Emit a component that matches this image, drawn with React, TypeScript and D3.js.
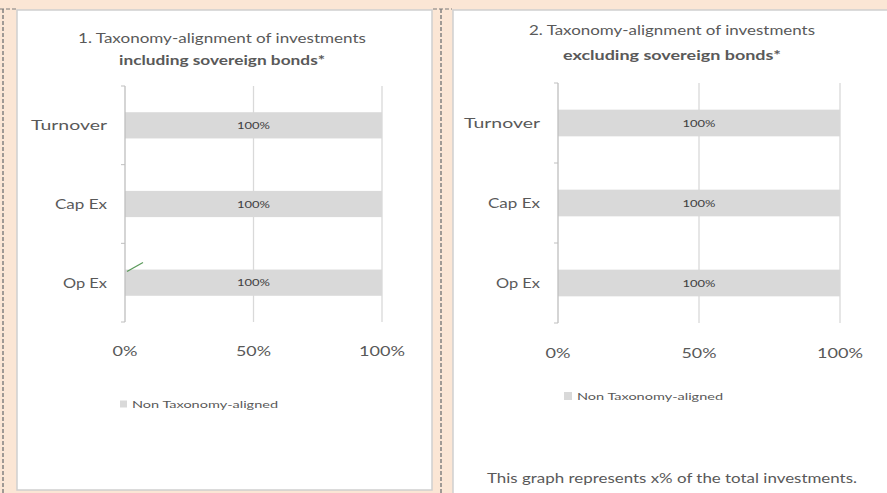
import React from 'react'
import * as d3 from 'd3'

// chart data
const categories = ['Turnover', 'Cap Ex', 'Op Ex']
const nonAlignedIncl = [100, 100, 100]
const nonAlignedExcl = [100, 100, 100]
const alignedIncl = [0, 0, 0]
const xTicks = [0, 50, 100]
const legendLabel = 'Non Taxonomy-aligned'
const footNote = 'This graph represents x% of the total investments.'

const W = 887
const H = 493
const PEACH = '#fbe6d5'
const TEXT = '#595959'
const BAR = '#d9d9d9'
const GRID = '#d9d9d9'
const FONT = 'Lato, "Open Sans", sans-serif'

// rendered widths of the labels (the source font is wider than what we have)
const catWidth: Record<string, number> = { Turnover: 76, 'Cap Ex': 52, 'Op Ex': 44 }
const tickWidth: Record<number, number> = { 0: 25, 50: 35, 100: 46 }

type PanelProps = {
	title1: string
	title2: string
	titleX: number
	titleY1: number
	titleY2: number
	titleW1: number
	titleW2: number
	values: number[]
	aligned?: number[]
	x0: number
	x1: number
	y0: number
	y1: number
	labelX: number
	tickY: number
	legendX: number
	legendY: number
	legendSize: number
}

const Panel = (p: PanelProps) => {
	const x = d3.scaleLinear().domain([0, 100]).range([p.x0, p.x1])
	const y = d3
		.scaleBand()
		.domain(categories)
		.range([p.y0, p.y1])
		.paddingInner(2 / 3)
		.paddingOuter(1 / 3)
	const step = (p.y1 - p.y0) / categories.length

	return (
		<g fontFamily={FONT}>
			<text x={p.titleX} y={p.titleY1} dy="0.35em" textAnchor="middle" fontSize={13} fill={TEXT}
				textLength={p.titleW1} lengthAdjust="spacingAndGlyphs">
				{p.title1}
			</text>
			<text x={p.titleX} y={p.titleY2} dy="0.35em" textAnchor="middle" fontSize={13} fontWeight="bold" fill={TEXT}
				textLength={p.titleW2} lengthAdjust="spacingAndGlyphs">
				{p.title2}
			</text>

			{/* gridlines */}
			{xTicks.slice(1).map(t => (
				<line key={t} x1={x(t)} x2={x(t)} y1={p.y0} y2={p.y1} stroke={GRID} strokeWidth={1.3} />
			))}

			{/* bars */}
			{categories.map((c, i) => (
				<g key={c}>
					<rect x={x(0)} y={y(c)} width={x(p.values[i]) - x(0)} height={y.bandwidth()} fill={BAR} />
					<text
						x={(x(0) + x(p.values[i])) / 2}
						y={(y(c) as number) + y.bandwidth() / 2}
						dy="0.35em"
						textAnchor="middle"
						fontSize={10}
						fill="#404040"
						textLength={33}
						lengthAdjust="spacingAndGlyphs"
					>
						{p.values[i]}%
					</text>
				</g>
			))}

			{/* aligned share leader line (0% label) */}
			{p.aligned &&
				p.aligned.map((v, i) =>
					i === 2 ? (
						<line
							key={i}
							x1={x(v) + 2}
							y1={(y(categories[i]) as number) + 2}
							x2={x(v + 7)}
							y2={(y(categories[i]) as number) - 7}
							stroke="#5b9a5b"
							strokeWidth={1.3}
						/>
					) : null
				)}

			{/* y axis */}
			<line x1={x(0)} x2={x(0)} y1={p.y0} y2={p.y1} stroke="#bfbfbf" strokeWidth={1.3} />
			{d3.range(categories.length + 1).map(k => (
				<line key={k} x1={x(0) - 4} x2={x(0)} y1={p.y0 + k * step} y2={p.y0 + k * step} stroke="#bfbfbf" />
			))}
			{categories.map(c => (
				<text
					key={c}
					x={p.labelX}
					y={(y(c) as number) + y.bandwidth() / 2}
					dy="0.35em"
					textAnchor="end"
					fontSize={14}
					fill={TEXT}
					textLength={catWidth[c]}
					lengthAdjust="spacingAndGlyphs"
				>
					{c}
				</text>
			))}

			{/* x tick labels */}
			{xTicks.map(t => (
				<text key={t} x={x(t)} y={p.tickY} dy="0.35em" textAnchor="middle" fontSize={14} fill={TEXT}
					textLength={tickWidth[t]} lengthAdjust="spacingAndGlyphs">
					{t}%
				</text>
			))}

			{/* legend */}
			<rect x={p.legendX} y={p.legendY - p.legendSize / 2} width={p.legendSize} height={p.legendSize} fill={BAR} />
			<text x={p.legendX + p.legendSize + 5} y={p.legendY} dy="0.35em" fontSize={10} fill={TEXT}
				textLength={146} lengthAdjust="spacingAndGlyphs">
				{legendLabel}
			</text>
		</g>
	)
}

const dash = '4 2'

export default function App() {
	return (
		<svg width={W} height={H} style={{ position: 'absolute', left: 0, top: 0, display: 'block' }}>
			<rect width={W} height={H} fill={PEACH} />
			{/* dashed guides */}
			<line x1={3} x2={3} y1={9} y2={H} stroke="#7a7a7a" strokeDasharray={dash} strokeWidth={1.4} />
			<line x1={441} x2={441} y1={9} y2={H} stroke="#7a7a7a" strokeDasharray={dash} strokeWidth={1.4} />
			<line x1={0} x2={16} y1={9} y2={9} stroke="#7a7a7a" strokeDasharray={dash} />
			<line x1={433} x2={452} y1={9} y2={9} stroke="#7a7a7a" strokeDasharray={dash} />

			{/* panels */}
			<rect x={17} y={10} width={415} height={480} fill="#fff" stroke="#cfcfcf" strokeWidth={1.5} />
			<rect x={453} y={10} width={W - 452} height={H} fill="#fff" stroke="#cfcfcf" strokeWidth={1.5} />

			<Panel
				title1="1. Taxonomy-alignment of investments"
				title2="including sovereign bonds*"
				titleX={222}
				titleY1={38}
				titleY2={60}
				titleW1={288}
				titleW2={206}
				values={nonAlignedIncl}
				aligned={alignedIncl}
				x0={125}
				x1={382}
				y0={86}
				y1={322}
				labelX={107}
				tickY={351}
				legendX={120}
				legendY={404}
				legendSize={7}
			/>
			<Panel
				title1="2. Taxonomy-alignment of investments"
				title2="excluding sovereign bonds*"
				titleX={672}
				titleY1={30}
				titleY2={55}
				titleW1={286}
				titleW2={218}
				values={nonAlignedExcl}
				x0={558}
				x1={840}
				y0={83}
				y1={323}
				labelX={540}
				tickY={353}
				legendX={564}
				legendY={396}
				legendSize={8}
			/>

			<text x={672} y={478} dy="0.35em" textAnchor="middle" fontSize={13} fill={TEXT} fontFamily={FONT}
				textLength={370} lengthAdjust="spacingAndGlyphs">
				{footNote}
			</text>
		</svg>
	)
}
